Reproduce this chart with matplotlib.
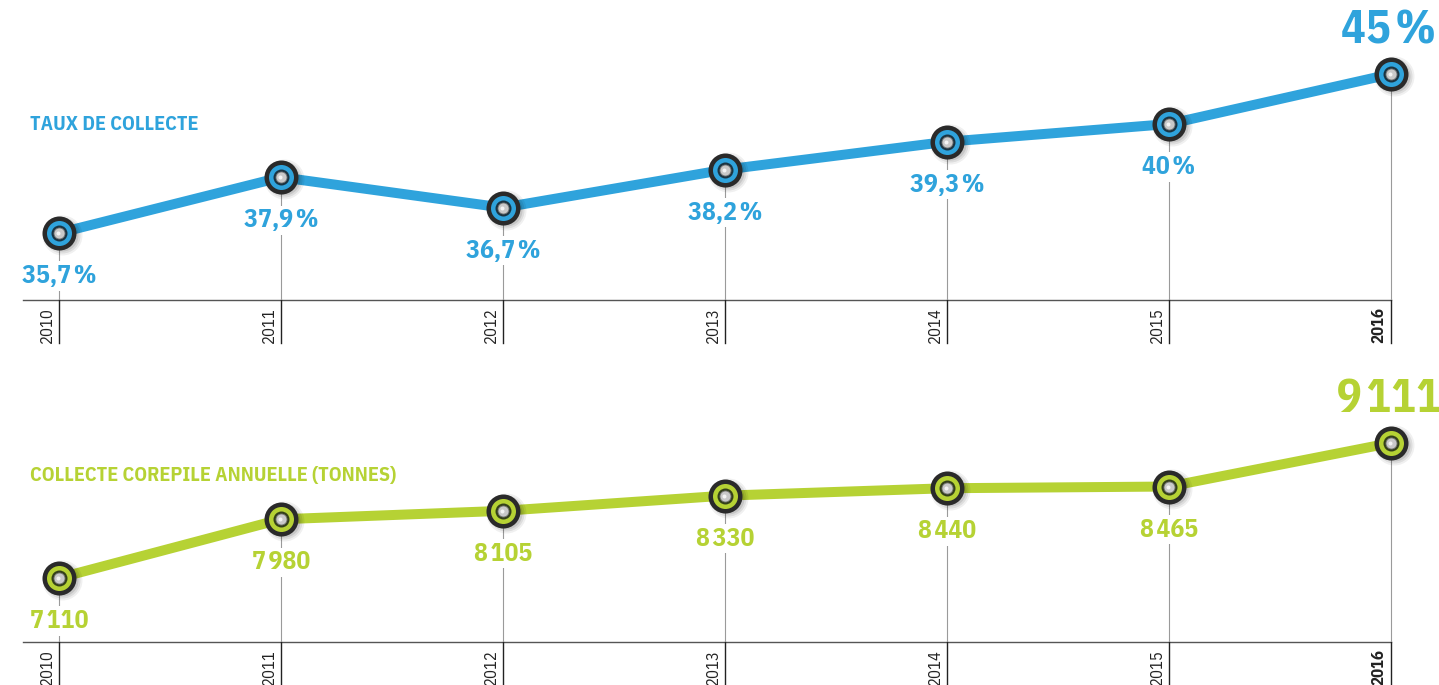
import numpy as np
import matplotlib
matplotlib.use("Agg")
import matplotlib.pyplot as plt
import matplotlib.transforms as mtransforms

# ---------- données ----------------------------------------------------------
years = [2010, 2011, 2012, 2013, 2014, 2015, 2016]
taux = [35.7, 37.9, 36.7, 38.2, 39.3, 40.0, 45.0]
taux_labels = ["35,7\u200a%", "37,9\u200a%", "36,7\u200a%", "38,2\u200a%",
               "39,3\u200a%", "40\u200a%", "45\u200a%"]
tonnes = [7110, 7980, 8105, 8330, 8440, 8465, 9111]
tonnes_labels = ["7\u200a110", "7\u200a980", "8\u200a105", "8\u200a330",
                 "8\u200a440", "8\u200a465", "9\u200a111"]

BLUE = "#2fa3dc"
GREEN = "#b6d234"
FONT = ["IBM Plex Sans Condensed", "DejaVu Sans"]

W, H = 1439, 685
fig = plt.figure(figsize=(W / 100, H / 100), dpi=100)

X0 = 2010 - 59 / 222
X1 = 2010 + 1380 / 222

# échelle compressée au-dessus de 40 % (comme dans l'infographie)
K = 0.394
def fwd(v):
    v = np.asarray(v, dtype=float)
    return np.where(v <= 40, v, 40 + (v - 40) * K)
def inv(t):
    t = np.asarray(t, dtype=float)
    return np.where(t <= 40, t, 40 + (t - 40) / K)


def panel(rect, vals, labels, color, ring_dark, title, title_y, ylim, scale=None):
    ax = fig.add_axes(rect)
    if scale is not None:
        ax.set_yscale("function", functions=scale)
    ax.set_xlim(X0, X1)
    ax.set_ylim(*ylim)
    ax.axis("off")
    h_px = rect[3] * H
    tr = mtransforms.blended_transform_factory(ax.transData, ax.transAxes)

    # ligne de base + graduations
    ax.plot([2010 - 36 / 222, years[-1]], [0, 0], color="#555555", lw=1.0,
            transform=tr, clip_on=False, zorder=1)
    for i, yr in enumerate(years):
        ax.plot([yr, yr], [0, -43 / h_px], color="#222222", lw=1.0,
                transform=tr, clip_on=False, zorder=1)
        ax.annotate(str(yr), xy=(yr, -43 / h_px), xycoords=tr,
                    xytext=(-3, 0), textcoords="offset points",
                    rotation=90, ha="right", va="bottom", fontsize=12,
                    color="#222222", family=FONT,
                    fontweight="bold" if i == len(years) - 1 else "normal",
                    annotation_clip=False)
        # ligne grise point -> base
        ax.plot([yr, yr], [ylim[0], vals[i]], color="#9a9a9a", lw=0.8, zorder=1)

    # courbe
    ax.plot(years, vals, color=color, lw=7.2, solid_capstyle="round", zorder=4)

    # ombres
    for s, a in [(40, 0.06), (36, 0.08), (32, 0.10)]:
        ax.scatter(np.array(years) + 2.5 / 222, vals, s=(s * 0.72) ** 2,
                   color="black", alpha=a, lw=0, zorder=5,
                   transform=ax.transData + mtransforms.ScaledTranslation(
                       0, -2 / 100, fig.dpi_scale_trans))
    # marqueurs
    ax.scatter(years, vals, s=(34 * 0.72) ** 2, color="#2a2a2a", lw=0, zorder=6)
    ax.scatter(years, vals, s=(25 * 0.72) ** 2, color=color, lw=0, zorder=7)
    ax.scatter(years, vals, s=(16 * 0.72) ** 2, color=ring_dark, lw=0, zorder=8)
    ax.scatter(years, vals, s=(11 * 0.72) ** 2, color="#c9c9c9",
               edgecolor="#777777", lw=0.6, zorder=9)
    ax.scatter(np.array(years) - 1.2 / 222, vals, s=(4 * 0.72) ** 2,
               color="#f4f4f4", lw=0, zorder=10)

    # étiquettes de valeurs
    for i, (yr, v, lab) in enumerate(zip(years, vals, labels)):
        last = i == len(years) - 1
        ax.annotate(lab, xy=(yr, v), xytext=(-1.5 if last else 0, 31 if last else -31),
                    textcoords="offset points", ha="center", va="center",
                    fontsize=33 if last else 18.5, fontweight="bold",
                    color=color, family=FONT, zorder=3, annotation_clip=False,
                    bbox=dict(boxstyle="square,pad=0.1", fc="white", ec="none"))

    fig.text(30 / W, 1 - title_y / H, title, ha="left", va="center",
             fontsize=14.5, fontweight="bold", color=color, family=FONT)
    return ax


panel([0, 385 / H, 1, 300 / H], taux, taux_labels, BLUE, "#1b3442",
      "TAUX DE COLLECTE", 125, (33.057, float(inv(44.891))), scale=(fwd, inv))
panel([0, 43 / H, 1, 272 / H], tonnes, tonnes_labels, GREEN, "#34401a",
      "COLLECTE COREPILE ANNUELLE (TONNES)", 476, (6161, 10192))

fig.savefig("out.png", dpi=100)
